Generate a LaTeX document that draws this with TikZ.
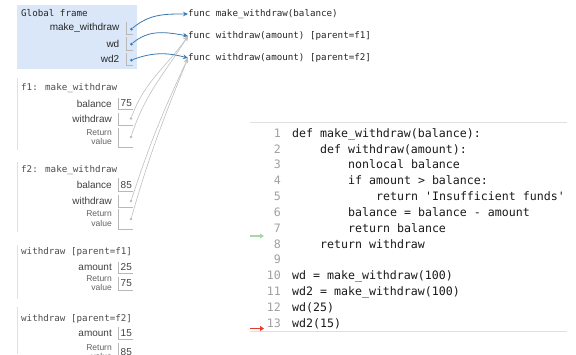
\documentclass[tikz,border=0pt]{standalone}
\usepackage{fontspec}
\usetikzlibrary{arrows.meta}
\newfontfamily\labfont{Liberation Sans}
\newfontfamily\codefont{DejaVu Sans Mono}
\definecolor{ptrblue}{HTML}{3A7AAE}
\definecolor{framebg}{HTML}{DAE7F8}
\definecolor{cellgray}{HTML}{B8B8B8}
\definecolor{lnogray}{HTML}{A0A0A0}
\definecolor{curgreen}{HTML}{A6D8A8}
\definecolor{nextred}{HTML}{E8392F}
\tikzset{
  ftitle/.style={font=\codefont\fontsize{9.2}{10}\selectfont, anchor=west, inner sep=0pt, text=black!70},
  vlabel/.style={font=\labfont\fontsize{10}{11}\selectfont, anchor=east, inner sep=0pt, text=black!75},
  retlabel/.style={font=\labfont\fontsize{8.5}{9.5}\selectfont, anchor=east, inner sep=0pt, align=right, text=black!62},
  vtext/.style={font=\labfont\fontsize{10}{11}\selectfont, anchor=west, inner sep=0pt, text=black!75},
  cellbox/.style={draw=cellgray, line width=0.6pt},
  dotg/.style={circle, fill=cellgray, inner sep=0pt, minimum size=2.6pt},
  dotb/.style={circle, fill=ptrblue, inner sep=0pt, minimum size=3pt},
  ptr/.style={ptrblue, line width=0.8pt, -{Stealth[length=5pt,width=4.5pt]}},
  gptr/.style={black!25, line width=0.6pt, -{Stealth[length=5pt,width=4.5pt]}},
  codeln/.style={font=\codefont\fontsize{11.6}{13}\selectfont, anchor=west, inner sep=0pt, text=black!90, text height=8.5pt, text depth=2.5pt},
  lineno/.style={font=\codefont\fontsize{11.6}{13}\selectfont, anchor=east, inner sep=0pt, text=lnogray, text height=8.5pt, text depth=2.5pt}
}
\begin{document}
\begin{tikzpicture}[x=1pt,y=-1pt]
\useasboundingbox (0,0) rectangle (576,354);
\clip (0,0) rectangle (576,354);
% global frame
\fill[framebg] (17,5) rectangle (137,69);
\node[ftitle, text=black!85] (gTitle) at (21,13) {Global frame};
\node[vlabel, text=black!85] (gMakeLab) at (119.5,28) {make\_withdraw};
\node[vlabel, text=black!85] (gWdLab) at (119.5,43.5) {wd};
\node[vlabel, text=black!85] (gWd2Lab) at (119.5,59) {wd2};
\draw[cellbox] (126,22) -- (126,34) -- (133,34);
\draw[cellbox] (126,37) -- (126,50) -- (133,50);
\draw[cellbox] (126,53) -- (126,65) -- (133,65);
\node[dotb] (gMake) at (131.5,29) {};
\node[dotb] (gWd) at (131.5,44) {};
\node[dotb] (gWd2) at (131.5,60) {};
% function objects
\node[ftitle, text=black!85] (fnMake) at (188,14) {func make\_withdraw(balance)};
\node[ftitle, text=black!85] (fnWd1) at (188,36) {func withdraw(amount) [parent=f1]};
\node[ftitle, text=black!85] (fnWd2) at (188,58) {func withdraw(amount) [parent=f2]};
% f1
\draw[black!12, line width=1pt] (17,78) -- (17,150);
\node[ftitle] (f1Title) at (21,88) {f1: make\_withdraw};
\node[vlabel] (f1BalLab) at (112,103.5) {balance};
\draw[cellbox] (118,98) -- (118,109) -- (133,109);
\node[vtext] (f1Bal) at (120.5,103.5) {75};
\node[vlabel] (f1WdLab) at (112,118.5) {withdraw};
\draw[cellbox] (118,113) -- (118,125) -- (133,125);
\node[dotg] (f1Wd) at (131,118.5) {};
\node[retlabel] (f1RetLab) at (112,137) {Return\\value};
\draw[cellbox] (118,128) -- (118,147) -- (133,147);
\node[dotg] (f1Ret) at (131,137) {};
% f2
\draw[black!12, line width=1pt] (17,162) -- (17,232);
\node[ftitle] (f2Title) at (21,170) {f2: make\_withdraw};
\node[vlabel] (f2BalLab) at (112,185) {balance};
\draw[cellbox] (118,178) -- (118,191) -- (133,191);
\node[vtext] (f2Bal) at (120.5,185) {85};
\node[vlabel] (f2WdLab) at (112,201) {withdraw};
\draw[cellbox] (118,195) -- (118,207) -- (133,207);
\node[dotg] (f2Wd) at (131,201) {};
\node[retlabel] (f2RetLab) at (112,218.5) {Return\\value};
\draw[cellbox] (118,209) -- (118,229) -- (133,229);
\node[dotg] (f2Ret) at (131,219) {};
% withdraw frames
\draw[black!12, line width=1pt] (17,245) -- (17,299);
\node[ftitle] (w1Title) at (21,252) {withdraw [parent=f1]};
\node[vlabel] (w1AmtLab) at (112,267.5) {amount};
\draw[cellbox] (118,262) -- (118,273) -- (133,273);
\node[vtext] (w1Amt) at (120.5,267.5) {25};
\node[retlabel] (w1RetLab) at (112,283) {Return\\value};
\draw[cellbox] (118,277) -- (118,290) -- (133,290);
\node[vtext] (w1Ret) at (120.5,283.5) {75};
\draw[black!12, line width=1pt] (17,307) -- (17,354);
\node[ftitle] (w2Title) at (21,319) {withdraw [parent=f2]};
\node[vlabel] (w2AmtLab) at (112,333) {amount};
\draw[cellbox] (118,327) -- (118,339) -- (133,339);
\node[vtext] (w2Amt) at (120.5,333) {15};
\node[retlabel] (w2RetLab) at (112,352) {Return\\value};
\draw[cellbox] (118,343) -- (118,360);
\node[vtext] (w2Ret) at (120.5,352.5) {85};
% pointers
\draw[gptr] (f1Wd) to[out=70,in=235] (fnWd1.west);
\draw[gptr] (f1Ret) to[out=72,in=238] (fnWd1.west);
\draw[gptr] (f2Wd) to[out=72,in=245] (fnWd2.west);
\draw[gptr] (f2Ret) to[out=74,in=248] (fnWd2.west);
\draw[ptr] (gMake) to[out=40,in=180] (fnMake.west);
\draw[ptr] (gWd) to[out=40,in=170] (fnWd1.west);
\draw[ptr] (gWd2) to[out=20,in=165] (fnWd2.west);
% code
\draw[black!12, line width=0.8pt] (250,122) -- (567,122);
\draw[black!12, line width=0.8pt] (250,331) -- (567,331);
\foreach \n/\ind/\txt in {1/0/{def make\_withdraw(balance):},
  2/1/{def withdraw(amount):},
  3/2/{nonlocal balance},
  4/2/{if amount > balance:},
  5/3/{return 'Insufficient funds'},
  6/2/{balance = balance - amount},
  7/2/{return balance},
  8/1/{return withdraw},
  9/0/{},
  10/0/{wd = make\_withdraw(100)},
  11/0/{wd2 = make\_withdraw(100)},
  12/0/{wd(25)},
  13/0/{wd2(15)}} {
  \node[lineno] (no\n) at (281,{134.3+(\n-1)*15.83}) {\n};
  \node[codeln] (ln\n) at ({292+\ind*28},{134.3+(\n-1)*15.83}) {\txt};
}
\coordinate (curA) at (250,236);
\coordinate (curB) at (264,236);
\draw[curgreen, line width=1.8pt, -{Triangle[length=4pt,width=5pt]}] (curA) -- (curB);
\coordinate (nxtA) at (250,328.5);
\coordinate (nxtB) at (264,328.5);
\draw[nextred, line width=1.8pt, -{Triangle[length=4pt,width=5pt]}] (nxtA) -- (nxtB);
\end{tikzpicture}
\end{document}
